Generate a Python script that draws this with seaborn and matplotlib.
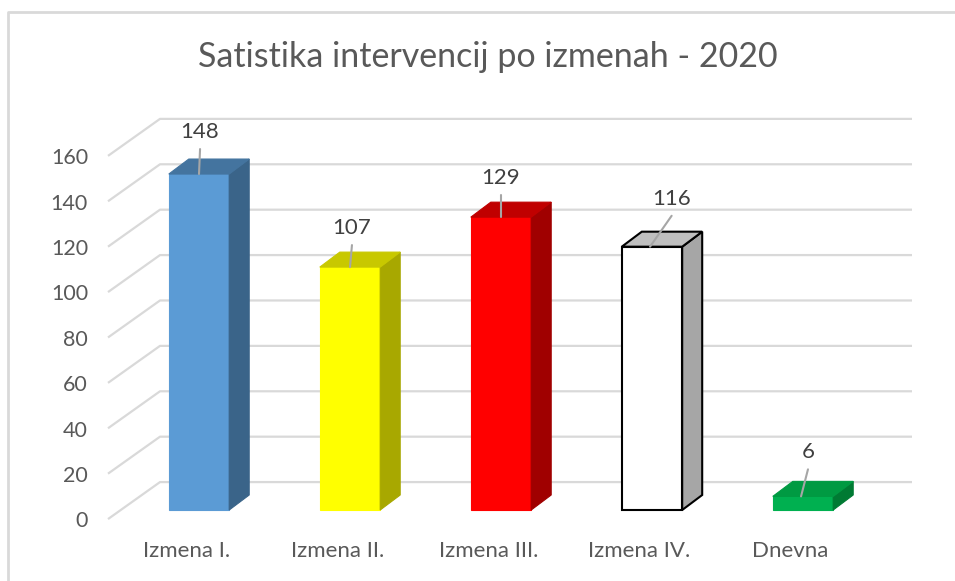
import numpy as np
import pandas as pd
import matplotlib
matplotlib.use("Agg")
import matplotlib.pyplot as plt
from matplotlib.patches import Polygon
import seaborn as sns

categories = ['Izmena I.', 'Izmena II.', 'Izmena III.', 'Izmena IV.', 'Dnevna']
values = [148, 107, 129, 116, 6]
ytick_values = [0, 20, 40, 60, 80, 100, 120, 140, 160]
title = 'Satistika intervencij po izmenah - 2020'

front_colors = ['#5B9BD5', '#FFFF00', '#FF0000', '#FFFFFF', '#00B050']
top_colors = ['#44749F', '#C8C800', '#C00000', '#BFBFBF', '#009A42']
side_colors = ['#3A6489', '#A8A800', '#A00000', '#A6A6A6', '#007A33']
edge_colors = ['#5B9BD5', '#FFFF00', '#FF0000', '#000000', '#00B050']

sns.set_theme(style='white')
plt.rcParams['font.family'] = ['Lato', 'DejaVu Sans']

W, H = 955, 581
fig = plt.figure(figsize=(W / 100, H / 100), dpi=100)
ax = fig.add_axes([0, 0, 1, 1])

df = pd.DataFrame({'cat': categories, 'val': values})
sns.barplot(data=df, x='cat', y='val', hue='cat', palette=front_colors,
            width=0.4, saturation=1, legend=False, ax=ax, zorder=3)

# pixel mapping: x_px = 199 + 151*x, y_px = 510 - 2.27*v
sx, sy = 151.0, 2.27
ax.set_xlim(-199 / sx, (W - 199) / sx)
ax.set_ylim((510 - H) / sy, 510 / sy)
ax.set_axis_off()

# 3d depth offsets (data units)
fx, fy = -12.5 / sx, -4.0          # front wall plane
bx, by = 39.5 / sx, 12.3           # back wall plane
ddx, ddy = 20 / sx, 15 / sy        # bar depth

# slanted gridlines (floor/side wall + back wall)
xLf = (108 - 199) / sx
xLb = xLf + (bx - fx)
xRb = (912 - 199) / sx
for v in ytick_values:
    ax.plot([xLf, xLb, xRb], [v + fy, v + by, v + by], color='#D9D9D9',
            lw=1.6, zorder=1, solid_capstyle='butt')
    ax.text((88 - 199) / sx, v + fy - 1.0, str(v), ha='right', va='center',
            fontsize=15.5, color='#595959')

# 3d faces
for i, p in enumerate(ax.patches):
    x0 = p.get_x()
    x1 = x0 + p.get_width()
    h = p.get_height()
    ec = edge_colors[i]
    lw = 1.5 if ec == '#000000' else 0.8
    p.set_edgecolor(ec)
    p.set_linewidth(lw)
    top = Polygon([(x0, h), (x1, h), (x1 + ddx, h + ddy), (x0 + ddx, h + ddy)],
                  closed=True, facecolor=top_colors[i], edgecolor=ec if ec == '#000000' else top_colors[i],
                  lw=lw, zorder=3)
    side = Polygon([(x1, 0), (x1 + ddx, ddy), (x1 + ddx, h + ddy), (x1, h)],
                   closed=True, facecolor=side_colors[i], edgecolor=ec if ec == '#000000' else side_colors[i],
                   lw=lw, zorder=3)
    ax.add_patch(side)
    ax.add_patch(top)

# category labels
for i, c in enumerate(categories):
    ax.text(i + fx, (510 - 551) / sy, c, ha='center', va='center',
            fontsize=16, color='#595959')

# data labels with leader lines: (label dx, label dy, leader end dx)
label_offsets = [(0.007, 18.5, 0.0), (0.013, 17.2, 0.0), (0.0, 17.2, 0.0),
                 (0.13, 21.1, -0.013), (0.033, 19.4, -0.013)]
for i, v in enumerate(values):
    ldx, ldy, edx = label_offsets[i]
    ax.text(i + ldx, v + ldy, str(v), ha='center', va='center',
            fontsize=16, color='#404040', zorder=5)
    ax.plot([i + ldx, i + edx], [v + ldy - 17 / sy, v], color='#A6A6A6',
            lw=1.5, zorder=4)

fig.text(488 / W, 1 - 57 / H, title, ha='center', va='center',
         fontsize=24.5, color='#595959')

# chart border (left and top visible)
fig.add_artist(plt.Line2D([8 / W, 8 / W, 1], [0, 1 - 12 / H, 1 - 12 / H],
                          transform=fig.transFigure, color='#D9D9D9', lw=2))

fig.savefig('out.png', dpi=100)
